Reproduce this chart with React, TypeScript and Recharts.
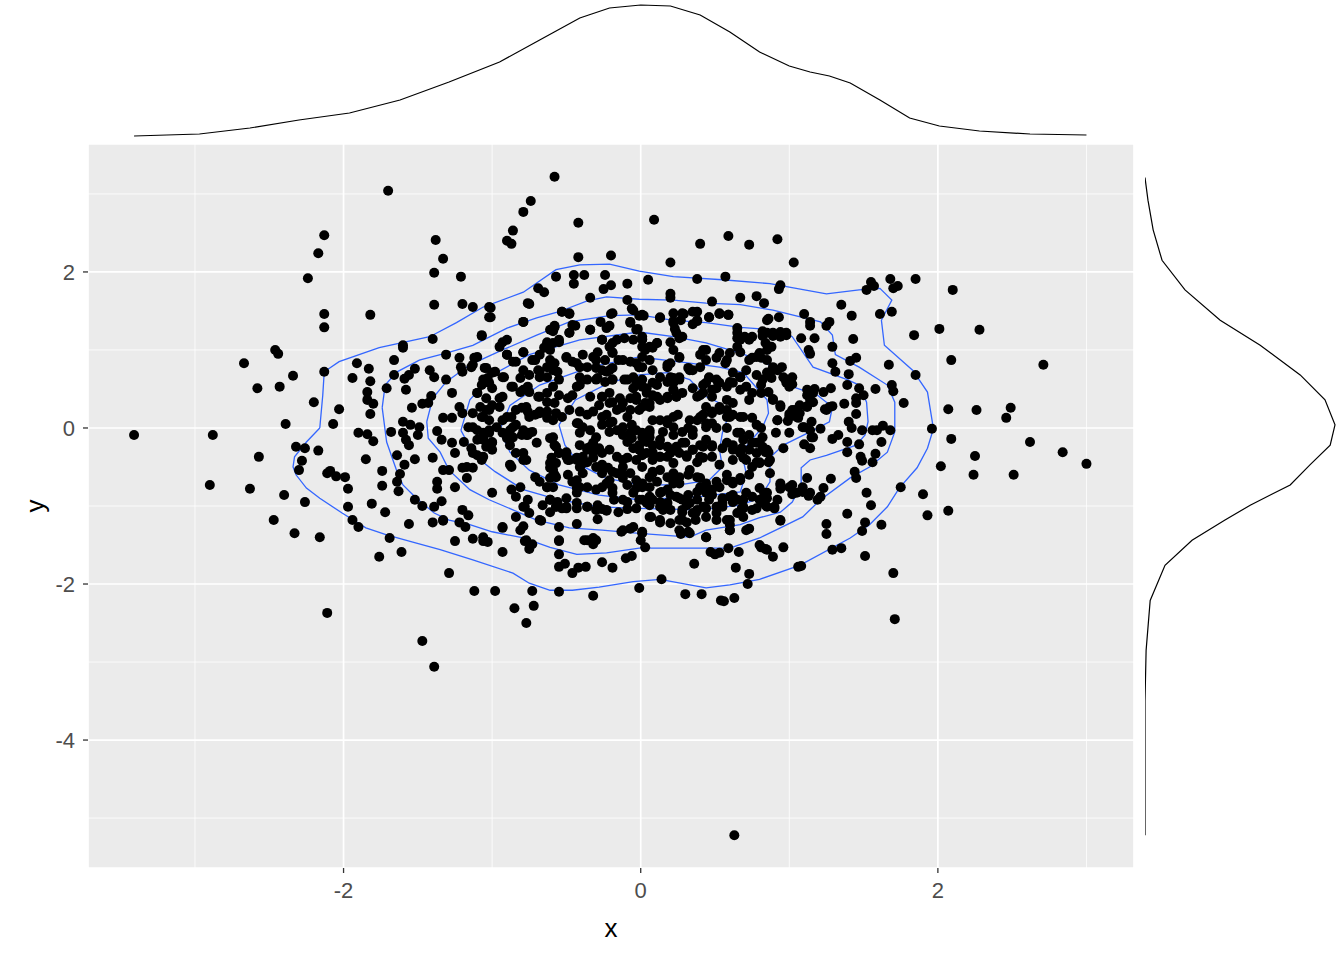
import { ScatterChart, Scatter, XAxis, YAxis, CartesianGrid } from 'recharts';

const FONT = '"Liberation Sans", Arial, sans-serif';

// axes
const xDomain: [number, number] = [-3.72, 3.32];
const yDomain: [number, number] = [-5.64, 3.64];
const xTicks = [-2, 0, 2];
const yTicks = [-4, -2, 0, 2];
const xMinor = [-3, -1, 1, 3];
const yMinor = [-5, -3, -1, 1, 3];

// scatter points [x, y]
const upperPts: [number, number][] = [
  [-1.70,3.04],[-2.13,2.47],[-2.17,2.24],[-2.24,1.92],[-2.13,1.46],[-2.13,1.29],[-1.82,1.45],[-1.38,2.41],[-1.33,2.17],[-1.39,1.99],[-1.39,1.58],[-1.40,1.14],[-1.60,1.06],
  [-0.58,3.22],[-0.74,2.91],[-0.79,2.77],[-0.86,2.53],[-0.90,2.40],[-0.87,2.36],[-0.42,2.63],[0.09,2.67],[0.59,2.46],[0.73,2.35],[0.40,2.36],[-0.42,2.19],[-0.20,2.21],[0.20,2.12],
  [-1.21,1.94],[-0.57,1.94],[-0.45,1.96],[-0.38,1.96],[-0.24,1.96],[-0.45,1.85],[-0.20,1.83],[-0.25,1.78],[-0.09,1.85],[0.05,1.90],[0.38,1.91],[0.57,1.94],[-0.69,1.79],[-0.65,1.74],[-0.34,1.67],[-0.09,1.64],[0.20,1.72],[0.20,1.67],[0.48,1.62],[0.67,1.67],[0.78,1.69],[0.83,1.60],
  [-1.20,1.59],[-1.13,1.55],[-1.01,1.54],[-1.01,1.42],[-0.75,1.59],[-0.53,1.49],[-0.48,1.46],[-0.20,1.46],[-0.06,1.53],[-0.01,1.44],[0.02,1.44],[0.13,1.41],[0.29,1.46],[0.38,1.49],[0.46,1.42],[0.53,1.46],[0.59,1.45],
  [-0.79,1.36],[-0.58,1.31],[-0.59,1.24],[-0.44,1.31],[-0.48,1.22],[-0.34,1.26],[-0.27,1.36],[-0.21,1.31],[-0.23,1.28],[-0.07,1.36],[-0.02,1.27],[0.22,1.37],[0.23,1.27],[0.27,1.38],[0.35,1.33],[0.38,1.37],[0.65,1.28],[0.85,1.38],[-1.07,1.18],[-0.90,1.13],
  [0.92,2.42],[1.03,2.12],[0.94,1.83],[0.93,1.78],[1.55,1.87],[1.57,1.82],[1.52,1.77],[1.68,1.91],[1.73,1.82],[1.70,1.79],[1.85,1.91],[2.10,1.77],[1.35,1.58],[1.42,1.44],[1.61,1.46],[1.69,1.49],[2.01,1.27],[2.28,1.26],[1.84,1.19],[1.10,1.46],[1.14,1.36],[1.14,1.31],[1.27,1.36],[1.25,1.31],[0.86,1.40],[0.93,1.42],[0.82,1.24],[0.89,1.21],[0.94,1.23],[0.98,1.19],[1.08,1.15],[1.17,1.15],[1.43,1.14],
];

const leftPts: [number, number][] = [
  [-3.41,-0.09],[-2.88,-0.09],[-2.67,0.83],[-2.46,1.00],[-2.44,0.95],[-2.34,0.67],[-2.58,0.51],[-2.43,0.53],[-2.20,0.33],[-2.39,0.05],[-2.13,0.72],[-2.03,0.24],[-2.07,0.05],[-2.32,-0.24],[-2.26,-0.26],[-2.17,-0.29],[-2.28,-0.42],[-2.30,-0.54],[-2.57,-0.37],[-2.90,-0.73],[-2.63,-0.78],[-2.40,-0.86],[-2.26,-0.95],[-2.11,-0.58],[-2.09,-0.55],[-2.05,-0.62],[-1.99,-0.63],[-1.97,-0.78],[-1.97,-1.01],
  [-1.91,0.83],[-1.83,0.76],[-1.94,0.64],[-1.82,0.60],[-1.84,0.46],[-1.84,0.36],[-1.80,0.31],[-1.82,0.18],[-1.90,-0.06],[-1.84,-0.08],[-1.80,-0.17],[-1.85,-0.40],[-1.74,-0.55],[-1.74,-0.74],[-1.81,-0.97],[-1.72,-1.08],[-1.68,-0.05],[-1.71,0.51],[-1.66,0.87],[-1.60,1.03],[-1.66,0.68],[-1.59,0.63],[-1.56,0.68],[-1.52,0.76],[-1.58,0.49],[-1.54,0.26],[-1.42,0.74],[-1.39,0.65],[-1.41,0.41],[-1.47,0.31],[-1.43,0.32],[-1.33,0.13],[-1.37,-0.04],[-1.60,0.08],[-1.55,0.04],[-1.49,0.01],[-1.60,-0.06],[-1.58,-0.15],[-1.56,-0.22],[-1.50,-0.09],[-1.64,-0.35],[-1.59,-0.47],[-1.62,-0.59],[-1.64,-0.69],[-1.63,-0.81],[-1.52,-0.40],[-1.40,-0.38],[-1.33,-0.54],[-1.37,-0.69],[-1.37,-0.78],[-1.34,-0.94],[-1.52,-0.92],[-1.47,-1.00],[-1.39,-1.01],[-1.31,0.94],[-1.31,0.62],
];

const rightPts: [number, number][] = [
  [2.09,0.87],[2.71,0.81],[2.07,0.24],[2.26,0.23],[2.49,0.26],[2.46,0.13],[1.96,-0.01],[2.09,-0.14],[2.62,-0.18],[2.84,-0.31],[3.00,-0.46],[2.25,-0.36],[2.02,-0.49],[2.24,-0.60],[2.51,-0.60],[1.90,-0.85],[1.75,-0.76],[2.07,-1.06],[1.93,-1.12],[1.85,0.68],[1.77,0.32],[1.67,0.81],[1.58,0.50],[1.69,0.55],[1.70,0.47],
  [1.45,0.90],[1.41,0.86],[1.29,0.83],[1.31,0.72],[1.40,0.69],[1.39,0.55],[1.29,1.04],[1.13,1.00],[1.14,0.95],[1.47,0.51],[1.50,0.42],[1.45,0.38],[1.45,0.32],[1.37,0.31],[1.29,0.28],[1.25,0.23],[1.45,0.18],[1.40,0.08],[1.42,0.00],[1.49,-0.03],[1.56,-0.03],[1.59,-0.03],[1.63,0.03],[1.68,-0.03],[1.62,-0.18],[1.47,-0.21],[1.39,-0.18],[1.39,-0.31],[1.33,-0.09],[1.29,-0.14],[1.48,-0.37],[1.49,-0.42],[1.56,-0.44],[1.58,-0.33],[1.44,-0.56],[1.45,-0.64],[1.52,-0.83],[1.55,-0.99],[1.39,-1.10],[1.28,-0.65],[1.23,-0.77],[1.21,-0.88],[1.12,-0.64],[1.09,-0.82],[1.13,-0.87],[0.94,-0.73],[1.02,-0.73],[1.02,-0.85],[0.94,-0.78],[0.90,-1.01],[0.83,-0.83],[0.82,-0.95],[0.87,-0.58],[0.80,-0.44],[0.86,-0.31],[0.96,-0.26],[1.10,-0.21],[1.14,-0.26],[1.15,-0.12],[0.91,-0.06],[1.00,-0.06],[1.21,-0.01],[1.15,0.08],[1.10,0.01],[1.06,0.13],[0.92,0.10],[0.99,0.09],[1.27,0.27],[1.24,0.24],[1.12,0.28],[1.07,0.29],[1.04,0.23],[1.00,0.18],[1.16,0.33],[1.17,0.50],[1.12,0.42],[1.23,0.46],[1.28,0.51],[0.94,0.29],[0.89,0.37],[0.81,0.45],[1.02,0.56],[0.97,0.63],[0.95,0.78],[0.88,0.64],[0.85,0.71],[0.82,0.62],[0.89,0.78],[0.81,0.90],[0.88,1.04],[0.82,1.18],[0.89,1.18],
];

const lowerPts: [number, number][] = [
  [-2.47,-1.18],[-2.33,-1.35],[-2.16,-1.40],[-2.11,-2.37],[-1.47,-2.73],[-1.39,-3.06],[-1.94,-1.18],[-1.90,-1.27],[-1.69,-1.41],[-1.76,-1.65],[-1.61,-1.59],[-1.56,-1.23],[-1.40,-1.21],[-1.33,-1.18],[-1.29,-1.86],
  [-1.12,-2.09],[-0.98,-2.09],[-0.85,-2.31],[-0.72,-2.28],[-0.77,-2.50],[-0.73,-2.09],[-0.55,-2.10],[-0.32,-2.15],[-0.01,-2.05],[0.14,-1.94],[0.30,-2.13],[0.41,-2.13],[0.54,-2.21],[0.56,-2.22],[0.63,-2.18],[0.72,-2.00],[0.73,-1.87],
  [-1.25,-1.45],[-1.33,-1.19],[-1.22,-1.21],[-1.18,-1.27],[-1.20,-1.05],[-1.16,-1.12],[-1.13,-1.42],[-1.06,-1.45],[-1.03,-1.46],[-0.93,-1.59],[-0.93,-1.28],[-0.84,-1.14],[-0.79,-1.26],[-0.78,-1.45],[-0.75,-1.55],[-0.73,-1.49],[-0.67,-1.19],[-0.61,-1.08],[-0.55,-1.45],[-0.55,-1.27],[-0.55,-1.62],[-0.55,-1.78],[-0.51,-1.74],[-0.46,-1.86],[-0.42,-1.79],[-0.37,-1.78],[-0.43,-1.23],[-0.38,-1.44],[-0.32,-1.41],[-0.32,-1.49],[-0.29,-1.17],[-0.26,-1.72],[-0.19,-1.79],[-0.10,-1.67],[-0.06,-1.64],[-0.13,-1.33],[-0.07,-1.29],[0.01,-1.33],[0.00,-1.44],[0.03,-1.53],[0.07,-1.14],[0.13,-1.21],[0.15,-1.05],[0.27,-1.36],[0.32,-1.33],[0.28,-1.08],[0.28,-1.18],[0.31,-1.21],[0.37,-1.18],[0.37,-1.09],[0.44,-1.40],[0.47,-1.59],[0.50,-1.62],[0.53,-1.60],[0.59,-1.54],[0.66,-1.59],[0.64,-1.79],[0.36,-1.74],[0.51,-1.18],[0.60,-1.18],[0.60,-1.24],[0.60,-1.31],[0.69,-1.14],[0.73,-1.29],[0.68,-1.03],[0.55,-1.01],[0.80,-1.50],[0.84,-1.55],[-0.26,-1.04],[-0.23,-1.06],[-0.15,-1.08],[-0.09,-1.04],[-0.78,-1.01],[-0.66,-0.99],[-0.57,-1.01],[-0.50,-1.03],[-0.43,-1.03],[-0.36,-1.01],
  [1.70,-1.86],[1.71,-2.45],[1.51,-1.64],[1.62,-1.24],[1.51,-1.21],[1.49,-1.32],[1.25,-1.23],[1.25,-1.36],[1.29,-1.56],[1.35,-1.54],[1.06,-1.78],[1.08,-1.77],[0.96,-1.53],[0.89,-1.65],[0.81,-1.53],[0.85,-1.56],[0.94,-1.19],[0.90,-1.03],[0.84,-0.99],
  [0.63,-5.22],
];

const centerPts: [number, number][] = [
  [-0.63,1.10],[-0.55,1.13],[-0.26,1.13],[-0.19,1.09],[-0.11,1.15],[-0.05,1.13],[0.01,1.14],[0.20,1.10],[0.26,1.15],[0.65,1.15],[0.70,1.17],[0.84,1.09],
  [-1.22,0.90],[-1.21,0.78],[-1.12,0.90],[-1.14,0.78],[-1.05,0.77],[-1.00,0.71],[-0.93,0.65],[-0.90,0.94],[-0.84,0.85],[-0.79,0.97],[-0.71,0.87],[-0.68,0.94],[-0.65,1.03],[-0.63,0.78],[-0.58,0.83],[-0.56,0.72],[-0.50,0.90],[-0.46,0.85],[-0.41,0.78],[-0.39,0.94],[-0.32,0.91],[-0.30,0.77],[-0.23,0.72],[-0.19,0.77],[-0.24,0.87],[-0.19,0.97],[-0.07,0.85],[-0.01,0.78],[0.03,1.00],[0.08,1.03],[0.11,1.09],[0.18,0.81],[0.26,0.90],[0.32,0.77],[0.40,0.94],[0.44,1.00],[0.51,0.90],[0.57,0.83],[0.60,0.96],[0.67,0.97],[0.75,0.90],[0.80,0.96],[0.85,1.00],
  [-1.20,0.72],[-1.27,0.45],[-1.10,0.45],[-1.07,0.55],[-1.03,0.64],[-1.00,0.51],[-0.95,0.38],[-0.87,0.53],[-0.81,0.46],[-0.76,0.53],[-0.81,0.64],[-0.75,0.68],[-0.68,0.72],[-0.69,0.40],[-0.63,0.33],[-0.58,0.32],[-0.55,0.42],[-0.49,0.38],[-0.46,0.42],[-0.41,0.55],[-0.36,0.62],[-0.34,0.40],[-0.26,0.40],[-0.21,0.45],[-0.19,0.33],[-0.14,0.38],[-0.29,0.64],[-0.24,0.59],[-0.19,0.62],[-0.11,0.62],[-0.05,0.65],[0.01,0.62],[-0.05,0.51],[0.04,0.51],[0.11,0.55],[0.18,0.59],[0.22,0.64],[0.26,0.65],[0.08,0.42],[0.18,0.38],[0.24,0.40],[0.22,0.49],[-0.07,0.38],[-0.03,0.40],[0.35,0.51],[0.42,0.55],[0.46,0.64],[0.53,0.58],[0.60,0.59],[0.67,0.65],[0.40,0.42],[0.48,0.40],[0.51,0.51],[0.78,0.68],[0.81,0.55],[0.86,0.46],
  [-1.27,0.13],[-1.22,0.27],[-1.20,0.19],[-1.13,0.19],[-1.07,0.14],[-1.04,0.23],[-1.00,0.29],[-1.16,0.01],[-1.10,-0.03],[-1.06,-0.06],[-1.02,-0.03],[-0.93,0.10],[-0.87,0.14],[-0.84,0.04],[-0.80,0.26],[-0.76,0.21],[-0.71,0.17],[-0.68,0.21],[-0.63,0.13],[-0.77,-0.09],[-0.73,-0.05],[-0.59,0.10],[-0.41,0.21],[-0.36,0.17],[-0.32,0.21],[-0.42,0.06],[-0.28,0.29],[-0.23,0.17],[-0.26,0.04],[-0.21,-0.05],[-0.19,0.08],[-0.13,0.26],[-0.09,0.14],[-0.06,0.04],[-0.12,-0.09],[-0.06,-0.13],[-0.01,0.23],[0.03,0.32],[0.08,0.10],[0.06,-0.03],[0.18,0.10],[0.22,0.14],[0.25,0.17],[0.15,-0.05],[0.22,-0.09],[0.28,-0.05],[0.32,0.00],[0.35,-0.09],[0.38,0.10],[0.42,0.17],[0.48,0.21],[0.53,0.27],[0.44,0.01],[0.51,0.00],[0.58,0.00],[0.58,0.14],[0.62,0.17],[0.69,0.14],[0.75,0.13],[0.67,-0.06],[0.73,-0.09],[0.81,0.00],[0.78,0.04],[0.78,-0.19],[0.82,-0.12],
  [-1.34,-0.15],[-1.27,-0.19],[-1.25,-0.32],[-1.19,-0.18],[-1.14,-0.26],[-1.10,-0.35],[-1.06,-0.13],[-1.03,-0.22],[-1.00,-0.18],[-1.17,-0.50],[-1.13,-0.51],[-1.07,-0.41],[-0.90,-0.13],[-0.88,-0.22],[-0.80,-0.09],[-0.76,-0.09],[-0.84,-0.32],[-0.79,-0.41],[-0.87,-0.50],[-0.61,-0.13],[-0.58,-0.22],[-0.55,-0.32],[-0.60,-0.38],[-0.57,-0.45],[-0.61,-0.51],[-0.58,-0.60],[-0.50,-0.31],[-0.49,-0.41],[-0.41,-0.22],[-0.36,-0.26],[-0.32,-0.31],[-0.28,-0.26],[-0.43,-0.38],[-0.40,-0.47],[-0.36,-0.44],[-0.32,-0.38],[-0.26,-0.47],[-0.22,-0.51],[-0.19,-0.56],[-0.13,-0.58],[-0.09,-0.18],[-0.05,-0.26],[-0.01,-0.22],[0.04,-0.18],[0.08,-0.22],[0.13,-0.22],[-0.09,-0.38],[-0.03,-0.41],[0.01,-0.35],[0.08,-0.31],[0.13,-0.37],[0.20,-0.32],[0.24,-0.26],[0.30,-0.19],[0.35,-0.28],[0.40,-0.22],[0.31,-0.35],[0.38,-0.44],[0.42,-0.38],[0.48,-0.22],[0.55,-0.26],[0.62,-0.22],[0.68,-0.26],[0.48,-0.37],[0.53,-0.47],[0.62,-0.41],[0.69,-0.38],[0.73,-0.28],[0.78,-0.44],[0.84,-0.31],[0.86,-0.44],
  [-1.29,-0.54],[-1.20,-0.51],[-1.25,-0.76],[-1.17,-0.64],[-1.00,-0.83],[-0.88,-0.47],[-0.87,-0.79],[-0.81,-0.76],[-0.71,-0.63],[-0.68,-0.69],[-0.63,-0.76],[-0.61,-0.64],[-0.49,-0.60],[-0.46,-0.69],[-0.43,-0.77],[-0.36,-0.76],[-0.30,-0.79],[-0.23,-0.71],[-0.19,-0.77],[-0.12,-0.64],[-0.09,-0.73],[-0.03,-0.77],[0.01,-0.71],[0.08,-0.56],[0.11,-0.69],[0.14,-0.82],[0.20,-0.64],[0.22,-0.71],[0.26,-0.71],[0.32,-0.60],[0.20,-0.86],[0.26,-0.90],[0.32,-0.86],[0.38,-0.82],[0.40,-0.64],[0.44,-0.71],[0.51,-0.69],[0.58,-0.60],[0.62,-0.69],[0.67,-0.64],[0.48,-0.86],[0.55,-0.90],[0.62,-0.86],[0.69,-0.92],[0.73,-0.60],[0.80,-0.77],[0.85,-0.90],
  [-0.76,-0.92],[-0.61,-0.92],[-0.56,-0.95],[-0.53,-1.03],[-0.50,-0.90],[-0.29,-0.99],[-0.18,-0.92],[-0.09,-0.95],[-0.03,-1.03],[0.06,-0.99],[0.13,-0.95],[0.20,-1.05],[0.31,-0.99],[0.38,-1.05],[0.44,-1.03],[0.62,-0.95],[0.69,-1.03],[0.78,-1.03],
];

// dense core, left half
const coreLeftPts: [number, number][] = [
  [-1.02,1.55],[-1.02,1.42],[-0.76,1.60],[-0.79,1.36],[-1.07,1.19],[-0.93,1.10],[-0.95,1.04],[-0.79,0.97],[-0.90,0.94],[-1.10,0.91],[-1.13,0.81],[-1.04,0.77],[-0.98,0.72],[-0.92,0.65],[-1.06,0.62],[-1.02,0.58],[-1.10,0.45],[-1.04,0.38],[-0.86,0.85],[-0.79,0.74],[-0.73,0.87],[-0.69,0.74],[-0.68,0.65],
  [-0.61,1.26],[-0.58,1.29],[-0.59,1.09],[-0.55,1.10],[-0.61,1.00],[-0.61,0.87],[-0.59,0.74],[-0.63,0.65],[-0.48,1.22],[-0.46,1.32],[-0.53,1.49],[-0.48,1.47],[-0.34,1.26],[-0.50,0.91],[-0.43,0.83],[-0.36,0.78],[-0.55,0.62],[-0.59,0.53],[-0.43,0.53],[-0.41,0.65],[-0.30,0.87],[-0.26,0.74],[-0.30,0.62],
  [-0.26,1.13],[-0.21,1.04],[-0.16,1.13],[-0.29,0.97],[-0.19,0.96],[-0.15,0.87],[-0.21,0.74],[-0.19,0.62],[-0.19,1.47],[-0.05,1.51],[0.01,1.45],[-0.07,1.35],[-0.03,1.26],[0.01,1.13],[0.06,1.04],[-0.12,0.87],[-0.03,0.83],[0.01,0.78],[-0.09,0.62],[-0.03,0.58],[0.01,0.53],
  [-0.86,0.53],[-0.79,0.49],[-0.75,0.46],[-0.68,0.40],[-0.63,0.45],[-0.93,0.40],[-1.08,0.27],[-1.02,0.23],[-0.95,0.27],[-0.90,0.14],[-1.02,0.10],[-1.06,0.14],[-0.84,0.23],[-0.77,0.27],[-0.75,0.14],[-0.68,0.19],[-0.63,0.21],[-0.57,0.19],[-0.53,0.14],[-0.48,0.23],
  [-0.86,0.01],[-0.88,-0.03],[-0.93,-0.06],[-0.86,-0.12],[-0.79,-0.03],[-0.75,-0.06],[-0.70,-0.19],[-0.97,0.01],[-1.02,-0.06],[-1.06,-0.15],[-1.04,-0.24],[-1.00,-0.19],[-1.13,0.01],[-1.10,-0.15],[-1.13,-0.32],[-1.06,-0.37],[-1.00,-0.28],[-0.79,-0.32],[-0.77,-0.41],
  [-0.59,-0.12],[-0.57,-0.24],[-0.55,-0.32],[-0.50,-0.37],[-0.48,-0.41],[-0.61,-0.45],[-0.59,-0.54],[-0.57,-0.63],[-0.63,-0.76],[-0.59,-0.76],[-0.43,0.06],[-0.39,0.01],[-0.34,-0.03],[-0.41,-0.06],[-0.30,-0.12],[-0.32,-0.19],[-0.36,-0.28],[-0.43,-0.41],[-0.39,-0.37],[-0.41,-0.50],[-0.39,-0.58],[-0.43,-0.67],[-0.41,-0.76],[-0.43,-0.83],
  [-0.34,-0.24],[-0.30,-0.28],[-0.26,-0.32],[-0.21,-0.28],[-0.16,-0.37],[-0.12,-0.41],[-0.26,0.40],[-0.21,0.32],[-0.16,0.23],[-0.12,0.32],[-0.07,0.23],[-0.03,0.36],[0.01,0.27],[0.06,0.32],[-0.26,0.14],[-0.21,0.06],[-0.16,-0.03],[-0.12,0.01],[-0.07,-0.06],[-0.03,-0.03],[0.01,-0.12],[0.06,-0.06],
  [-0.30,-0.50],[-0.26,-0.58],[-0.21,-0.67],[-0.16,-0.58],[-0.12,-0.50],[-0.07,-0.58],[-0.03,-0.67],[0.01,-0.76],[0.06,-0.63],[-0.26,-0.76],[-0.19,-0.83],[-0.12,-0.92],[-0.05,-0.83],[0.01,-0.92],[0.06,-0.88],
  [-0.61,-0.92],[-0.57,-1.01],[-0.50,-1.01],[-0.43,-0.96],[-0.36,-1.01],[-0.30,-1.05],[-0.23,-1.05],[-0.84,-0.88],[-0.79,-1.01],[-0.75,-1.09],[-0.68,-1.18],[-0.93,-1.27],[-0.81,-1.31],[-1.06,-1.40],[-0.77,-1.44],[-0.55,-1.44],[-0.36,-1.44],[-0.30,-1.44],[-0.12,-1.31],[-0.05,-1.27],[0.01,-1.35],
];

// dense core, right half
const coreRightPts: [number, number][] = [
  [0.13,1.42],[0.22,1.47],[0.28,1.47],[0.35,1.49],[0.38,1.38],[0.46,1.42],[0.53,1.47],[0.59,1.45],[0.22,1.35],[0.24,1.22],[0.28,1.17],[0.01,1.17],[0.01,1.04],[0.11,1.09],[0.22,1.00],[0.26,0.91],[0.20,0.83],[0.18,0.78],[0.42,1.00],[0.44,0.87],[0.40,0.78],[0.35,0.74],[0.46,0.65],[0.51,0.62],[0.44,0.58],[0.48,0.49],[0.33,0.74],
  [0.53,0.96],[0.58,0.87],[0.65,1.22],[0.67,1.13],[0.65,1.04],[0.73,1.13],[0.75,1.17],[0.73,0.87],[0.78,0.91],[0.62,0.71],[0.67,0.65],[0.71,0.74],[0.58,0.53],[0.62,0.58],[0.67,0.49],[0.71,0.53],[0.75,0.45],[0.73,0.36],[0.85,1.22],[0.89,1.22],[0.94,1.17],[0.98,1.22],[0.87,1.04],[0.85,0.87],[0.87,0.71],[0.92,0.74],[0.96,0.65],[0.98,0.58],[1.02,0.65],[1.00,0.53],[0.89,0.36],[0.94,0.27],
  [1.12,0.49],[1.14,0.36],[1.16,0.45],[1.02,0.23],[1.07,0.19],[1.12,0.27],[1.05,0.14],[0.92,0.10],[1.00,0.14],[1.09,0.01],[1.14,-0.03],[1.16,-0.12],
  [0.01,0.91],[0.06,0.87],[-0.01,0.78],[0.08,0.74],[0.13,0.65],[0.08,0.58],[0.20,0.65],[0.22,0.58],[0.26,0.62],[0.04,0.45],[0.11,0.40],[0.18,0.40],[0.22,0.49],[0.06,0.27],[0.13,0.36],[0.24,0.40],[0.28,0.45],[0.38,0.40],[0.42,0.45],[0.44,0.27],[0.48,0.19],[0.53,0.23],[0.58,0.36],[0.62,0.32],[0.58,0.23],[0.60,0.14],[0.67,0.14],[0.40,0.14],[0.44,0.06],[0.48,0.06],[0.33,0.10],[0.35,-0.03],[0.13,0.10],[0.18,0.06],[0.22,0.01],
  [0.01,-0.06],[0.06,-0.12],[0.13,-0.15],[0.18,-0.24],[0.24,-0.24],[0.28,-0.19],[-0.01,-0.28],[0.04,-0.32],[0.08,-0.41],[0.13,-0.37],[0.18,-0.37],[0.22,-0.45],[0.26,-0.32],[0.31,-0.37],[0.35,-0.28],[0.40,-0.37],[0.44,-0.15],[0.48,-0.24],[0.42,-0.24],[0.58,-0.19],[0.62,-0.28],[0.67,-0.32],[0.65,-0.06],[0.69,-0.15],[0.75,-0.19],[0.78,-0.32],[0.82,-0.24],[0.71,-0.41],[0.75,-0.50],[0.80,-0.45],[0.85,-0.28],[0.87,-0.41],
  [0.01,-0.50],[0.08,-0.58],[0.13,-0.54],[0.18,-0.63],[0.22,-0.58],[0.06,-0.76],[0.13,-0.83],[0.18,-0.79],[0.26,-0.63],[0.33,-0.54],[0.38,-0.63],[0.40,-0.76],[0.44,-0.83],[0.48,-0.79],[0.53,-0.76],[0.58,-0.67],[0.62,-0.71],[0.67,-0.67],[0.46,-0.92],[0.51,-1.01],[0.55,-0.96],[0.60,-0.88],[0.65,-0.92],[0.71,-0.83],[0.75,-0.88],[0.80,-0.92],[0.85,-0.83],
  [0.24,-0.88],[0.28,-0.92],[0.33,-0.96],[0.38,-0.92],[0.42,-1.01],[-0.01,-0.92],[0.04,-0.96],[0.08,-0.92],[0.13,-1.01],[0.18,-0.96],[0.06,-1.14],[0.13,-1.18],[0.20,-1.22],[0.26,-1.18],[0.28,-1.05],[0.35,-1.09],[0.44,-1.14],[0.51,-1.09],[0.58,-1.18],[0.65,-1.09],[0.69,-1.01],[0.75,-1.05],[0.85,-1.01],[0.92,-0.92],
  [0.94,-0.71],[1.00,-0.76],[1.05,-0.83],[1.09,-0.76],[1.14,-0.83],[1.19,-0.92],[0.26,-1.31],[0.33,-1.35],[0.44,-1.40],[0.60,-1.31],[0.71,-1.31],[0.94,-1.18],
];

// 2d density contour paths [x, y]
const contour1: [number, number][] = [
  [-2.16,0.00],[-2.14,0.42],[-2.13,0.72],[-2.03,0.85],[-1.76,1.03],[-1.42,1.17],[-1.24,1.35],[-1.06,1.55],[-0.79,1.74],[-0.57,2.03],[-0.41,2.09],[-0.21,2.10],[-0.01,2.01],[0.22,1.94],[0.55,1.90],[0.87,1.85],[1.25,1.72],[1.47,1.77],[1.61,1.79],[1.69,1.64],[1.62,1.38],[1.64,1.06],[1.83,0.74],[1.93,0.46],[1.97,-0.01],[1.93,-0.26],[1.86,-0.51],[1.74,-0.77],[1.66,-1.01],[1.54,-1.24],[1.41,-1.41],[1.07,-1.76],[0.80,-1.94],[0.60,-2.01],[0.44,-2.05],[0.33,-2.01],[0.13,-1.94],[-0.05,-1.97],[-0.28,-2.04],[-0.46,-2.08],[-0.61,-2.08],[-0.75,-1.99],[-0.86,-1.86],[-1.13,-1.69],[-1.35,-1.56],[-1.54,-1.46],[-1.71,-1.37],[-1.85,-1.28],[-2.01,-1.09],[-2.16,-0.90],[-2.25,-0.77],[-2.32,-0.60],[-2.34,-0.50],[-2.33,-0.37],[-2.25,-0.18],[-2.16,0.00],
];
const contour2: [number, number][] = [
  [-1.74,0.26],[-1.72,0.55],[-1.64,0.72],[-1.49,0.87],[-1.31,0.96],[-1.13,1.06],[-0.90,1.28],[-0.70,1.41],[-0.55,1.49],[-0.36,1.63],[-0.23,1.68],[-0.01,1.65],[0.22,1.64],[0.44,1.60],[0.67,1.58],[0.89,1.51],[1.21,1.36],[1.29,1.19],[1.31,0.94],[1.47,0.78],[1.66,0.55],[1.71,0.33],[1.71,-0.05],[1.66,-0.31],[1.54,-0.50],[1.41,-0.64],[1.21,-0.92],[1.09,-1.14],[0.94,-1.28],[0.80,-1.41],[0.60,-1.54],[0.33,-1.54],[-0.01,-1.54],[-0.23,-1.60],[-0.43,-1.62],[-0.61,-1.53],[-0.79,-1.41],[-1.00,-1.33],[-1.15,-1.24],[-1.29,-1.18],[-1.39,-1.09],[-1.51,-0.90],[-1.60,-0.73],[-1.64,-0.56],[-1.71,-0.18],[-1.74,0.26],
];
const contour3: [number, number][] = [
  [-1.44,0.08],[-1.40,0.38],[-1.31,0.59],[-1.15,0.81],[-0.93,1.00],[-0.70,1.19],[-0.48,1.36],[-0.21,1.44],[-0.01,1.45],[0.22,1.38],[0.44,1.35],[0.67,1.29],[0.89,1.26],[1.02,1.17],[1.16,0.78],[1.39,0.62],[1.47,0.55],[1.52,0.33],[1.53,0.08],[1.51,-0.09],[1.45,-0.22],[1.25,-0.35],[1.14,-0.41],[1.08,-0.51],[1.08,-0.73],[1.02,-0.95],[0.94,-1.08],[0.80,-1.15],[0.67,-1.24],[0.44,-1.31],[0.33,-1.40],[-0.01,-1.35],[-0.26,-1.31],[-0.48,-1.28],[-0.70,-1.18],[-0.86,-1.05],[-1.02,-0.92],[-1.15,-0.79],[-1.29,-0.54],[-1.35,-0.31],[-1.43,-0.13],[-1.44,0.08],
];
const contour4: [number, number][] = [
  [-1.21,-0.03],[-1.15,0.36],[-1.00,0.68],[-0.75,0.94],[-0.41,1.13],[-0.01,1.23],[0.22,1.17],[0.44,1.09],[0.67,0.96],[0.80,0.87],[0.89,0.78],[1.02,0.53],[1.19,0.42],[1.29,0.27],[1.27,0.08],[1.16,-0.03],[0.96,-0.22],[0.87,-0.38],[0.87,-0.69],[0.80,-0.90],[0.67,-0.99],[0.40,-1.05],[-0.01,-1.03],[-0.28,-1.01],[-0.55,-0.92],[-0.79,-0.79],[-0.98,-0.56],[-1.12,-0.35],[-1.21,-0.03],
];
const contour5: [number, number][] = [
  [-0.95,-0.03],[-0.88,0.29],[-0.68,0.55],[-0.34,0.78],[-0.01,0.91],[0.33,0.83],[0.53,0.78],[0.69,0.71],[0.75,0.58],[0.85,0.36],[0.86,0.19],[0.82,0.01],[0.69,-0.28],[0.69,-0.41],[0.71,-0.58],[0.67,-0.82],[0.40,-0.88],[-0.01,-0.92],[-0.28,-0.86],[-0.55,-0.73],[-0.75,-0.54],[-0.88,-0.31],[-0.95,-0.03],
];
const contour6: [number, number][] = [
  [-0.55,0.04],[-0.44,0.36],[-0.21,0.58],[-0.01,0.68],[0.18,0.71],[0.33,0.62],[0.44,0.40],[0.53,0.32],[0.58,0.10],[0.55,-0.06],[0.53,-0.28],[0.55,-0.50],[0.46,-0.67],[0.26,-0.73],[-0.01,-0.73],[-0.24,-0.64],[-0.41,-0.47],[-0.51,-0.22],[-0.55,0.04],
];

// marginal densities
const topDensX = [-3.41,-2.97,-2.63,-2.30,-1.96,-1.62,-1.29,-0.95,-0.68,-0.41,-0.21,0.00,0.20,0.40,0.60,0.80,1.00,1.14,1.27,1.41,1.61,1.81,2.01,2.28,2.62,3.00];
const topDensY = [0.000,0.006,0.024,0.048,0.069,0.108,0.162,0.222,0.288,0.354,0.384,0.393,0.390,0.363,0.312,0.252,0.210,0.192,0.180,0.159,0.108,0.054,0.030,0.015,0.006,0.003];
const rightDensY = [3.21,2.92,2.54,2.15,1.77,1.38,1.06,0.68,0.36,0.04,-0.22,-0.47,-0.73,-0.99,-1.18,-1.44,-1.76,-2.21,-2.85,-3.50,-5.22];
const rightDensX = [0.000,0.008,0.022,0.046,0.108,0.203,0.311,0.419,0.486,0.513,0.500,0.446,0.392,0.284,0.216,0.127,0.054,0.014,0.003,0.000,0.000];

const toXY = (pts: [number, number][]) => pts.map(([x, y]) => ({ x, y }));
const pointData = toXY([...upperPts, ...leftPts, ...rightPts, ...lowerPts, ...centerPts, ...coreLeftPts, ...coreRightPts]);
const contours = [contour1, contour2, contour3, contour4, contour5, contour6].map(toXY);
const topData = topDensX.map((x, i) => ({ x, y: topDensY[i] }));
const rightData = rightDensY.map((y, i) => ({ x: rightDensX[i], y }));

const noShape = () => <g />;
const dot = (p: any) => <circle cx={p.cx} cy={p.cy} r={5} fill="#000000" />;

const TICK_FS = 22;
const tickStyle = { fill: '#4D4D4D', fontSize: TICK_FS, fontFamily: FONT };
const tickLineStyle = { stroke: '#333333', strokeWidth: 1.3 };

// minor grid positions, mapped linearly over the plot box
const minorV = ({ offset }: any) => {
  const left = offset?.left ?? 88;
  const w = offset?.width ?? 1046;
  return xMinor.map((v) => left + ((v - xDomain[0]) / (xDomain[1] - xDomain[0])) * w);
};
const minorH = ({ offset }: any) => {
  const top = offset?.top ?? 144;
  const h = offset?.height ?? 724;
  return yMinor.map((v) => top + ((yDomain[1] - v) / (yDomain[1] - yDomain[0])) * h);
};

export default function App() {
  return (
    <div style={{ position: 'absolute', left: 0, top: 0, width: 1344, height: 960, background: '#FFFFFF' }}>
      <div style={{ position: 'absolute', left: 0, top: 0 }}>
        <ScatterChart width={1140} height={960} margin={{ top: 144, right: 6, bottom: 22, left: 0 }}>
          <CartesianGrid fill="#EBEBEB" stroke="none" horizontal={false} vertical={false} />
          <CartesianGrid
            fill="none"
            stroke="#FFFFFF"
            strokeWidth={0.8}
            verticalCoordinatesGenerator={minorV}
            horizontalCoordinatesGenerator={minorH}
          />
          <CartesianGrid fill="none" stroke="#FFFFFF" strokeWidth={1.7} />
          <XAxis
            type="number"
            dataKey="x"
            domain={xDomain}
            ticks={xTicks}
            allowDataOverflow
            height={70}
            axisLine={false}
            tickLine={tickLineStyle}
            tickSize={5}
            tickMargin={9}
            fontSize={TICK_FS}
            fontFamily={FONT}
            tick={tickStyle}
            label={{
              content: () => (
                <text x={611} y={928} textAnchor="middle" dominantBaseline="central" fontSize={26} fontFamily={FONT} fill="#000000">
                  x
                </text>
              ),
            }}
          />
          <YAxis
            type="number"
            dataKey="y"
            domain={yDomain}
            ticks={yTicks}
            allowDataOverflow
            width={88}
            axisLine={false}
            tickLine={tickLineStyle}
            tickSize={5}
            tickMargin={8}
            fontSize={TICK_FS}
            fontFamily={FONT}
            tick={tickStyle}
            label={{
              content: () => (
                <text x={35} y={506} transform="rotate(-90 35 506)" textAnchor="middle" dominantBaseline="central" fontSize={26} fontFamily={FONT} fill="#000000">
                  y
                </text>
              ),
            }}
          />
          {contours.map((c, i) => (
            <Scatter
              key={'c' + i}
              data={c}
              fill="#3366FF"
              line={{ stroke: '#3366FF', strokeWidth: 1.3 }}
              lineType="joint"
              shape={noShape}
              isAnimationActive={false}
            />
          ))}
          <Scatter data={pointData} fill="#000000" shape={dot} isAnimationActive={false} />
        </ScatterChart>
      </div>

      <div style={{ position: 'absolute', left: 88, top: 0 }}>
        <ScatterChart width={1046} height={140} margin={{ top: 5, right: 0, bottom: 4, left: 0 }}>
          <XAxis type="number" dataKey="x" domain={xDomain} hide />
          <YAxis type="number" dataKey="y" domain={[0, 0.393]} hide />
          <Scatter
            data={topData}
            fill="#000000"
            line={{ stroke: '#000000', strokeWidth: 1.2 }}
            lineType="joint"
            shape={noShape}
            isAnimationActive={false}
          />
        </ScatterChart>
      </div>

      <div style={{ position: 'absolute', left: 1145, top: 144 }}>
        <ScatterChart width={196} height={724} margin={{ top: 0, right: 6, bottom: 0, left: 0 }}>
          <XAxis type="number" dataKey="x" domain={[0, 0.513]} hide />
          <YAxis type="number" dataKey="y" domain={yDomain} hide />
          <Scatter
            data={rightData}
            fill="#000000"
            line={{ stroke: '#000000', strokeWidth: 1.2 }}
            lineType="joint"
            shape={noShape}
            isAnimationActive={false}
          />
        </ScatterChart>
      </div>
    </div>
  );
}
